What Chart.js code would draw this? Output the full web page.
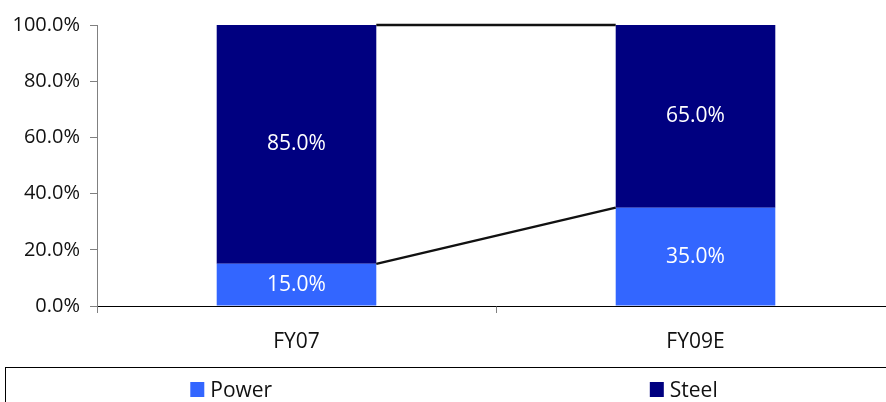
<!DOCTYPE html>
<html>
<head>
<meta charset="utf-8">
<script src="https://cdn.jsdelivr.net/npm/chart.js@4.4.1/dist/chart.umd.min.js"></script>
<style>
  html, body { margin: 0; padding: 0; background: #fff; overflow: hidden; }
  #wrap { position: relative; width: 900px; height: 402px; }
</style>
</head>
<body>
<div id="wrap"><canvas id="mix"></canvas></div>
<script>
const categories = ['FY07', 'FY09E'];
const powerShare = [15, 35];
const steelShare = [85, 65];
const yTicks = [0, 20, 40, 60, 80, 100];

const FONT = "'Open Sans', sans-serif";

// Excel-style series lines joining the tops of matching segments
const seriesLines = {
  id: 'seriesLines',
  afterDatasetsDraw(chart) {
    const ctx = chart.ctx;
    ctx.save();
    ctx.strokeStyle = '#111';
    ctx.lineWidth = 2.5;
    chart.data.datasets.forEach((ds, d) => {
      const bars = chart.getDatasetMeta(d).data;
      for (let i = 0; i < bars.length - 1; i++) {
        const a = bars[i], b = bars[i + 1];
        ctx.beginPath();
        ctx.moveTo(a.x + a.width / 2, a.y);
        ctx.lineTo(b.x - b.width / 2, b.y);
        ctx.stroke();
      }
    });
    ctx.restore();
  }
};

// value labels in the middle of each segment
const segmentLabels = {
  id: 'segmentLabels',
  afterDatasetsDraw(chart) {
    const ctx = chart.ctx;
    ctx.save();
    ctx.fillStyle = '#fff';
    ctx.font = `21px ${FONT}`;
    ctx.textAlign = 'center';
    ctx.textBaseline = 'middle';
    chart.data.datasets.forEach((ds, d) => {
      chart.getDatasetMeta(d).data.forEach((bar, i) => {
        ctx.fillText(ds.data[i].toFixed(1) + '%', bar.x, (bar.y + bar.base) / 2);
      });
    });
    ctx.restore();
  }
};

// boxed legend under the axis, one column per series
const boxLegend = {
  id: 'boxLegend',
  afterDraw(chart) {
    const ctx = chart.ctx;
    const left = 5, top = 367, right = 910;
    ctx.save();
    ctx.strokeStyle = '#000';
    ctx.lineWidth = 1;
    ctx.strokeRect(left + 0.5, top + 0.5, right - left, 60);
    ctx.font = `21px ${FONT}`;
    ctx.textBaseline = 'alphabetic';
    const n = chart.data.datasets.length;
    const colW = (right - left) / n;
    chart.data.datasets.forEach((ds, d) => {
      const tw = ctx.measureText(ds.label).width;
      const itemW = 14 + 6 + tw;
      const x0 = left + colW * d + (colW - itemW) / 2;
      ctx.fillStyle = ds.backgroundColor;
      ctx.fillRect(x0, 382, 14, 15);
      ctx.fillStyle = '#111';
      ctx.fillText(ds.label, x0 + 20, 397);
    });
    ctx.restore();
  }
};

new Chart(document.getElementById('mix'), {
  type: 'bar',
  data: {
    labels: categories,
    datasets: [
      { label: 'Power', data: powerShare, backgroundColor: '#3366FF' },
      { label: 'Steel', data: steelShare, backgroundColor: '#000080' }
    ]
  },
  options: {
    responsive: true,
    maintainAspectRatio: false,
    animation: false,
    layout: { padding: { top: 25, right: 5, bottom: 35, left: 0 } },
    datasets: { bar: { categoryPercentage: 1, barPercentage: 0.4 } },
    plugins: { legend: { display: false }, tooltip: { enabled: false } },
    scales: {
      x: {
        stacked: true,
        afterFit: (s) => { s.height = 61; },
        grid: { drawOnChartArea: false, offset: true, tickLength: 7, color: '#808080' },
        border: { color: '#000', width: 1 },
        ticks: { padding: 16, color: '#111', font: { family: FONT, size: 21 } }
      },
      y: {
        stacked: true,
        min: 0,
        max: 100,
        afterFit: (s) => { s.width = 97; },
        afterBuildTicks: (s) => { s.ticks = yTicks.map(v => ({ value: v })); },
        grid: { drawOnChartArea: false, tickLength: 7, color: '#808080' },
        border: { color: '#808080', width: 1 },
        ticks: {
          padding: 10,
          color: '#111',
          font: { family: FONT, size: 20 },
          callback: (v) => Number(v).toFixed(1) + '%'
        }
      }
    }
  },
  plugins: [seriesLines, segmentLabels, boxLegend]
});
</script>
</body>
</html>
